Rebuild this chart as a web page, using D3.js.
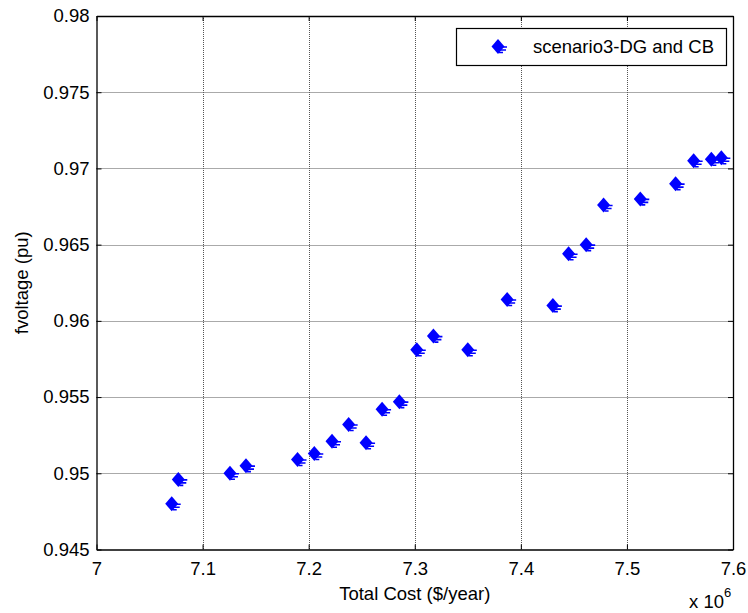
<!DOCTYPE html>
<html>
<head>
<meta charset="utf-8">
<script src="https://cdn.jsdelivr.net/npm/d3@7"></script>
<style>
  body { margin: 0; background: #fff; }
  text { font-family: "Liberation Sans", Arial, sans-serif; fill: #000; }
</style>
</head>
<body>
<script>
const WIDTH = 748;
const HEIGHT = 613;

// total cost (x 10^6 $/year) and voltage values
const cost = [7.0709, 7.0771, 7.1258, 7.1409, 7.1895, 7.2053, 7.2220, 7.2377,
  7.2541, 7.2692, 7.2855, 7.3019, 7.3176, 7.3500, 7.3871, 7.4302, 7.4450,
  7.4616, 7.4780, 7.5126, 7.5459, 7.5629, 7.5796, 7.5890];
const voltage = [0.9480, 0.9496, 0.9500, 0.9505, 0.9509, 0.9513, 0.9521, 0.9532,
  0.9520, 0.9542, 0.9547, 0.9581, 0.9590, 0.9581, 0.9614, 0.9610, 0.9644,
  0.9650, 0.9676, 0.9680, 0.9690, 0.9705, 0.9706, 0.9707];

const xTicks = [7.0, 7.1, 7.2, 7.3, 7.4, 7.5, 7.6];
const xTickLabels = ["7", "7.1", "7.2", "7.3", "7.4", "7.5", "7.6"];
const yTicks = [0.945, 0.95, 0.955, 0.96, 0.965, 0.97, 0.975, 0.98];
const yTickLabels = ["0.945", "0.95", "0.955", "0.96", "0.965", "0.97", "0.975", "0.98"];
const seriesName = "scenario3-DG and CB";

const FONT = 18.5;
const M_LEFT = 96.5, M_RIGHT = 733, M_TOP = 16, M_BOTTOM = 549.5;

const SVG = d3.select("body").append("svg")
  .attr("width", WIDTH)
  .attr("height", HEIGHT);

const x = d3.scaleLinear().domain([7.0, 7.6]).range([M_LEFT, M_RIGHT]);
const y = d3.scaleLinear().domain([0.945, 0.98]).range([M_BOTTOM, M_TOP]);

// rejilla punteada
const grid = SVG.append("g")
  .attr("stroke", "#555")
  .attr("stroke-width", 1)
  .attr("stroke-dasharray", "1,1");
grid.selectAll("line.gx")
  .data(xTicks.slice(1, -1))
  .join("line")
  .attr("class", "gx")
  .attr("x1", (d) => Math.round(x(d)) + 0.5)
  .attr("x2", (d) => Math.round(x(d)) + 0.5)
  .attr("y1", M_TOP)
  .attr("y2", M_BOTTOM);
grid.selectAll("line.gy")
  .data(yTicks.slice(1, -1))
  .join("line")
  .attr("class", "gy")
  .attr("y1", (d) => Math.round(y(d)) + 0.5)
  .attr("y2", (d) => Math.round(y(d)) + 0.5)
  .attr("x1", M_LEFT)
  .attr("x2", M_RIGHT);

const fmtX = (d) => xTickLabels[xTicks.indexOf(d)];
const fmtY = (d) => yTickLabels[yTicks.indexOf(d)];

const xAxis = SVG.append("g")
  .attr("transform", `translate(0,${M_BOTTOM})`)
  .call(d3.axisBottom(x).tickValues(xTicks).tickFormat(fmtX)
    .tickSizeInner(-5).tickSizeOuter(0).tickPadding(12));
const xTop = SVG.append("g")
  .attr("transform", `translate(0,${M_TOP})`)
  .call(d3.axisTop(x).tickValues(xTicks).tickFormat("")
    .tickSizeInner(-5).tickSizeOuter(0));
const yAxis = SVG.append("g")
  .attr("transform", `translate(${M_LEFT},0)`)
  .call(d3.axisLeft(y).tickValues(yTicks).tickFormat(fmtY)
    .tickSizeInner(-5).tickSizeOuter(0).tickPadding(7));
const yRight = SVG.append("g")
  .attr("transform", `translate(${M_RIGHT},0)`)
  .call(d3.axisRight(y).tickValues(yTicks).tickFormat("")
    .tickSizeInner(-5).tickSizeOuter(0));

[xAxis, xTop, yAxis, yRight].forEach((g) => {
  g.selectAll("path.domain").attr("stroke", "#000").attr("stroke-width", 1.3);
  g.selectAll(".tick line").attr("stroke", "#000");
  g.selectAll(".tick text")
    .style("font-size", FONT + "px")
    .style("font-family", '"Liberation Sans", Arial, sans-serif')
    .attr("fill", "#000");
});

// etiquetas de ejes
SVG.append("text")
  .attr("x", (M_LEFT + M_RIGHT) / 2)
  .attr("y", 600)
  .attr("text-anchor", "middle")
  .style("font-size", FONT + "px")
  .text("Total Cost ($/year)");

SVG.append("text")
  .attr("transform", `translate(28,${(M_TOP + M_BOTTOM) / 2}) rotate(-90)`)
  .attr("text-anchor", "middle")
  .style("font-size", FONT + "px")
  .text("fvoltage (pu)");

const mult = SVG.append("text")
  .attr("x", 689)
  .attr("y", 608)
  .style("font-size", FONT + "px");
mult.append("tspan").text("x 10");
mult.append("tspan")
  .attr("dy", -11)
  .style("font-size", "13px")
  .text("6");

// marcador: rombo azul con trazos hacia la derecha
const marker = (g) => {
  g.append("path")
    .attr("d", "M0,-7.5L6.5,0L0,7.5L-6.5,0Z")
    .attr("fill", "#0000ff");
  g.append("path")
    .attr("d", "M0,0.5H9M2,3.5H8M1,6H5")
    .attr("stroke", "#0000ff")
    .attr("stroke-width", 1.6)
    .attr("fill", "none");
};

const puntos = cost.map((c, i) => ({ c, v: voltage[i] }));
SVG.append("g")
  .selectAll("g")
  .data(puntos)
  .join("g")
  .attr("transform", (d) => `translate(${x(d.c)},${y(d.v)})`)
  .each(function () { marker(d3.select(this)); });

// leyenda
const legend = SVG.append("g");
legend.append("rect")
  .attr("x", 456.5)
  .attr("y", 28.5)
  .attr("width", 270)
  .attr("height", 37)
  .attr("fill", "#fff")
  .attr("stroke", "#000")
  .attr("stroke-width", 1.2);
legend.append("g")
  .attr("transform", "translate(498,46.5)")
  .call(marker);
legend.append("text")
  .attr("x", 533)
  .attr("y", 53)
  .style("font-size", FONT + "px")
  .text(seriesName);
</script>
</body>
</html>
